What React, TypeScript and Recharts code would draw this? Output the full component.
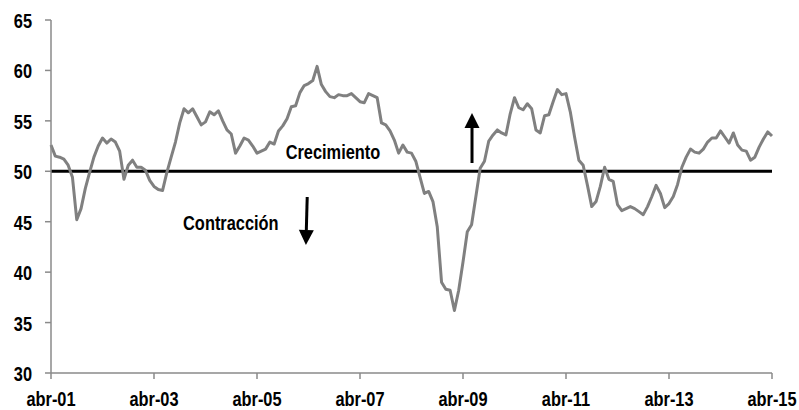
import React from 'react';
import { LineChart, Line, XAxis, YAxis, ReferenceLine, ReferenceDot } from 'recharts';

// Monthly index values, abr-01 .. abr-15 (169 months)
const pmiValues: number[] = [
  52.6, 51.5, 51.4, 51.2, 50.6, 49.4, 45.2, 46.3, 48.3, 49.9, 51.4, 52.5,
  53.3, 52.8, 53.2, 52.9, 52.0, 49.2, 50.6, 51.1, 50.4, 50.4, 50.1, 49.1,
  48.5, 48.2, 48.1, 49.9, 51.4, 52.9, 54.8, 56.2, 55.8, 56.2, 55.4, 54.6,
  54.9, 55.9, 55.6, 56.0, 55.0, 54.1, 53.7, 51.8, 52.5, 53.3, 53.1, 52.5,
  51.8, 52.0, 52.2, 52.9, 52.7, 54.0, 54.5, 55.2, 56.4, 56.5, 57.8, 58.5,
  58.7, 59.0, 60.4, 58.6, 57.9, 57.4, 57.3, 57.6, 57.5, 57.5, 57.7, 57.3,
  56.9, 56.8, 57.7, 57.5, 57.3, 54.8, 54.6, 54.0, 53.1, 51.8, 52.6, 51.9,
  51.8, 51.0, 49.4, 47.8, 48.0, 47.0, 44.5, 39.0, 38.3, 38.2, 36.2, 38.2,
  41.0, 44.0, 44.7, 47.5, 50.3, 51.0, 53.0, 53.6, 54.1, 53.8, 53.6, 55.7,
  57.3, 56.3, 56.1, 56.7, 56.2, 54.1, 53.8, 55.5, 55.6, 56.9, 58.1, 57.6,
  57.7, 55.9, 53.4, 51.1, 50.6, 48.6, 46.5, 47.0, 48.5, 50.4, 49.2, 49.0,
  46.7, 46.1, 46.3, 46.5, 46.3, 46.0, 45.7, 46.5, 47.5, 48.6, 47.8, 46.4,
  46.8, 47.5, 48.7, 50.4, 51.4, 52.2, 51.9, 51.8, 52.2, 52.9, 53.3, 53.3,
  54.0, 53.4, 52.8, 53.8, 52.6, 52.1, 52.0, 51.1, 51.4, 52.4, 53.2, 53.9,
  53.5,
];

const tickPositions: number[] = [0, 24, 48, 72, 96, 120, 144, 168];
const tickLabels: string[] = ['abr-01', 'abr-03', 'abr-05', 'abr-07', 'abr-09', 'abr-11', 'abr-13', 'abr-15'];
const yTicks: number[] = [30, 35, 40, 45, 50, 55, 60, 65];
const threshold = 50;

// annotations (in data coordinates)
const upArrow = { x: 98.1, from: 50.82, to: 55.78 };
const downArrow = { x: 59.4, from: 47.45, to: 42.69 };
const growthLabel = { x: 65.7, y: 51.22, text: 'Crecimiento' };
const contractionLabel = { x: 41.9, y: 44.18, text: 'Contracción' };

const data = pmiValues.map((v, i) => ({ i, v }));

const FONT = '"Liberation Sans", Arial, sans-serif';
const AXIS_GRAY = '#8a8a8a';
const NARROW = 0.82;

const NarrowText = ({ x, y, anchor, dy, children }: any) => (
  <text
    transform={`translate(${x},${y}) scale(${NARROW},1)`}
    textAnchor={anchor}
    dy={dy}
    fill="#000"
    fontSize={20}
    fontWeight={700}
    fontFamily={FONT}
  >
    {children}
  </text>
);

const XTick = (props: any) => {
  const { x, y, payload } = props;
  const idx = tickPositions.indexOf(payload.value);
  return <NarrowText x={x} y={y} anchor="middle" dy="0.71em">{tickLabels[idx] ?? ''}</NarrowText>;
};

const YTick = (props: any) => {
  const { x, y, payload } = props;
  return <NarrowText x={x} y={y} anchor="end" dy="0.4em">{payload.value}</NarrowText>;
};

const ArrowShape = (props: any) => {
  const { x1, y1, x2, y2 } = props;
  const dx = x2 - x1;
  const dy = y2 - y1;
  const len = Math.sqrt(dx * dx + dy * dy) || 1;
  const ux = dx / len;
  const uy = dy / len;
  const headLen = 15;
  const headHalf = 7.5;
  const bx = x2 - ux * headLen;
  const by = y2 - uy * headLen;
  const px = -uy;
  const py = ux;
  return (
    <g>
      <line x1={x1} y1={y1} x2={bx} y2={by} stroke="#000" strokeWidth={3} />
      <polygon
        points={`${x2},${y2} ${bx + px * headHalf},${by + py * headHalf} ${bx - px * headHalf},${by - py * headHalf}`}
        fill="#000"
      />
    </g>
  );
};

const makeLabelShape = (text: string) => (props: any) => (
  <NarrowText x={props.cx} y={props.cy} anchor="middle" dy={0}>{text}</NarrowText>
);

export default function App() {
  return (
    <div style={{ position: 'absolute', left: 0, top: 0, background: '#fff' }}>
      <LineChart width={799} height={410} data={data} margin={{ top: 20, right: 27, bottom: 0, left: 0 }}>
        <XAxis
          type="number"
          dataKey="i"
          domain={[0, 168]}
          ticks={tickPositions}
          interval={0}
          height={37}
          tickSize={6}
          tickMargin={13}
          axisLine={{ stroke: AXIS_GRAY, strokeWidth: 1.5 }}
          tickLine={{ stroke: AXIS_GRAY, strokeWidth: 1.5 }}
          tick={<XTick />}
        />
        <YAxis
          type="number"
          domain={[30, 65]}
          ticks={yTicks}
          interval={0}
          width={51}
          tickSize={6}
          tickMargin={13}
          axisLine={{ stroke: AXIS_GRAY, strokeWidth: 1.5 }}
          tickLine={{ stroke: AXIS_GRAY, strokeWidth: 1.5 }}
          tick={<YTick />}
        />
        <ReferenceLine y={threshold} stroke="#000" strokeWidth={3} />
        <Line
          type="linear"
          dataKey="v"
          stroke="#808080"
          strokeWidth={3}
          dot={false}
          activeDot={false}
          isAnimationActive={false}
          strokeLinejoin="round"
        />
        <ReferenceLine
          segment={[{ x: upArrow.x, y: upArrow.from }, { x: upArrow.x, y: upArrow.to }]}
          shape={ArrowShape}
        />
        <ReferenceLine
          segment={[{ x: downArrow.x + 0.3, y: downArrow.from }, { x: downArrow.x, y: downArrow.to }]}
          shape={ArrowShape}
        />
        <ReferenceDot
          x={growthLabel.x}
          y={growthLabel.y}
          r={0}
          shape={makeLabelShape(growthLabel.text)}
        />
        <ReferenceDot
          x={contractionLabel.x}
          y={contractionLabel.y}
          r={0}
          shape={makeLabelShape(contractionLabel.text)}
        />
      </LineChart>
    </div>
  );
}
